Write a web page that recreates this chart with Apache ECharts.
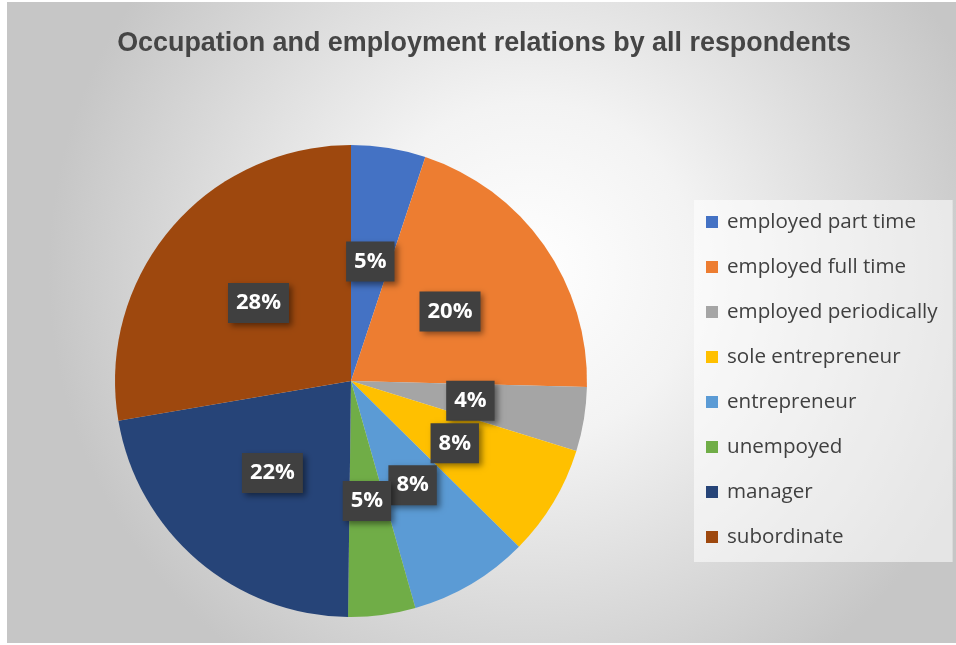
<!DOCTYPE html>
<html>
<head>
<meta charset="utf-8">
<script src="https://cdn.jsdelivr.net/npm/echarts@6/dist/echarts.min.js"></script>
<style>
  html, body { margin: 0; padding: 0; background: #ffffff; }
  #chart { width: 956px; height: 645px; }
</style>
</head>
<body>
<div id="chart"></div>
<script>
// Survey breakdown of respondents by occupation / employment relation (percent)
const categories = [
  'employed part time',
  'employed full time',
  'employed periodically',
  'sole entrepreneur',
  'entrepreneur',
  'unempoyed',
  'manager',
  'subordinate'
];
const shares = [5.1, 20.3, 4.4, 7.6, 8.2, 4.6, 22.1, 27.7];
const sliceColors = ['#4472C4', '#ED7D31', '#A5A5A5', '#FFC000', '#5B9BD5', '#70AD47', '#264478', '#9E480E'];
const chartTitle = 'Occupation and employment relations by all respondents';

const chart = echarts.init(document.getElementById('chart'), null, { renderer: 'canvas' });

const option = {
  animation: false,
  color: sliceColors,
  graphic: [{
    type: 'rect',
    z: -10,
    shape: { x: 7, y: 2, width: 949, height: 641 },
    style: {
      fill: new echarts.graphic.RadialGradient(0.55, 0.42, 0.75, [
        { offset: 0, color: '#ffffff' },
        { offset: 0.35, color: '#f3f3f3' },
        { offset: 1, color: '#c6c6c6' }
      ])
    },
    silent: true
  }],
  title: {
    text: chartTitle,
    left: 479,
    textAlign: 'center',
    top: 25,
    textStyle: {
      fontFamily: 'Liberation Sans',
      fontSize: 26.9,
      fontWeight: 'bold',
      color: '#454545'
    }
  },
  legend: {
    orient: 'vertical',
    left: 694,
    top: 200,
    padding: [10, 15, 13, 12],
    backgroundColor: 'rgba(255,255,255,0.55)',
    itemWidth: 12,
    itemHeight: 12,
    itemGap: 21,
    icon: 'rect',
    data: categories,
    textStyle: {
      fontFamily: 'Open Sans',
      fontSize: 20.6,
      color: '#404040',
      lineHeight: 24,
      padding: [0, 0, 0, 4]
    }
  },
  series: [{
    type: 'pie',
    center: [351, 381],
    radius: [0, 236],
    startAngle: 90,
    clockwise: true,
    percentPrecision: 0,
    avoidLabelOverlap: false,
    labelLayout: { hideOverlap: false },
    data: categories.map((name, i) => ({ name, value: shares[i] })),
    label: {
      show: true,
      position: 'inside',
      formatter: '{d}%',
      fontFamily: 'Open Sans',
      fontSize: 22,
      lineHeight: 26,
      fontWeight: 'bold',
      color: '#ffffff',
      backgroundColor: '#404040',
      padding: [9, 8, 5, 8],
      shadowBlur: 6,
      shadowOffsetX: 3,
      shadowOffsetY: 3,
      shadowColor: 'rgba(0,0,0,0.45)'
    },
    labelLine: { show: false },
    emphasis: { disabled: true }
  }]
};

chart.setOption(option);
</script>
</body>
</html>
